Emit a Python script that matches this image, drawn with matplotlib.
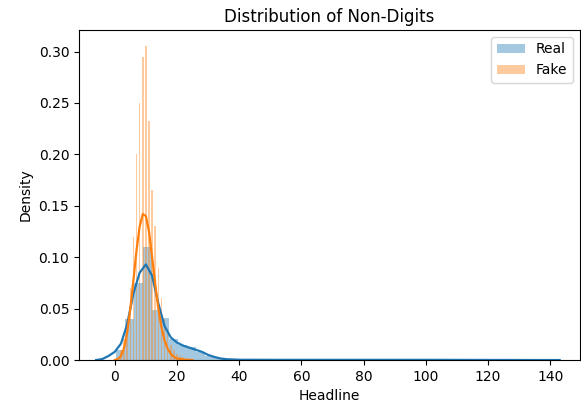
import numpy as np
import matplotlib
matplotlib.use('Agg')
import matplotlib.pyplot as plt

# Histogramme "Real" : bins de largeur fixe, densites
real_bin_start = 0.5
real_bin_width = 2.84
real_heights = [0.010, 0.040, 0.075, 0.110, 0.049, 0.041, 0.020, 0.015,
                0.013, 0.008, 0.004, 0.002, 0.001, 0.0005]

# Histogramme "Fake" : pics etroits sur les valeurs entieres
fake_centers = list(range(2, 25))
fake_width = 0.48
fake_heights = [0.010, 0.020, 0.040, 0.070, 0.120, 0.200, 0.250, 0.295,
                0.305, 0.232, 0.165, 0.130, 0.090, 0.060, 0.040, 0.025,
                0.015, 0.010, 0.006, 0.004, 0.003, 0.002, 0.001]

# Courbes KDE
real_kde_x = [-6, -4, -2, 0, 2, 4, 6, 8, 10, 12, 14, 16, 18, 20, 22, 24,
              26, 28, 30, 32, 34, 36, 40, 50, 70, 100, 120, 143]
real_kde_y = [0.0, 0.001, 0.004, 0.008, 0.016, 0.035, 0.065, 0.085, 0.093,
              0.082, 0.055, 0.033, 0.022, 0.017, 0.014, 0.012, 0.010, 0.008,
              0.005, 0.003, 0.0015, 0.0008, 0.0003, 0.0002, 0.0002, 0.0002,
              0.0001, 0.0]

fake_kde_x = [0, 1, 2, 3, 4, 5, 6, 7, 8, 9, 10, 11, 12, 13, 14, 15, 16,
              17, 18, 19, 20, 22, 25]
fake_kde_y = [0.0, 0.001, 0.004, 0.012, 0.027, 0.050, 0.078, 0.107, 0.130,
              0.142, 0.140, 0.125, 0.100, 0.074, 0.050, 0.032, 0.019, 0.011,
              0.006, 0.003, 0.0015, 0.0005, 0.0]

fig = plt.figure(figsize=(5.81, 4.05), dpi=100)
ax = fig.add_axes([0.136, 0.111, 0.862, 0.815])

real_left = real_bin_start + real_bin_width * np.arange(len(real_heights))
ax.bar(real_left, real_heights, width=real_bin_width, align='edge',
       color='C0', alpha=0.4, linewidth=0, label='Real')
ax.plot(real_kde_x, real_kde_y, color='C0', lw=1.6)

ax.bar(fake_centers, fake_heights, width=fake_width, align='center',
       color='C1', alpha=0.4, linewidth=0, label='Fake')
ax.plot(fake_kde_x, fake_kde_y, color='C1', lw=1.6)

ax.set_xlim(-11.5, 149.5)
ax.set_ylim(0, 0.321)
ax.set_xticks(range(0, 141, 20))
ax.set_yticks(np.arange(0, 0.31, 0.05))
ax.set_title('Distribution of Non-Digits')
ax.set_xlabel('Headline')
ax.set_ylabel('Density')
ax.legend(loc='upper right')

fig.savefig('out.png', dpi=100)
